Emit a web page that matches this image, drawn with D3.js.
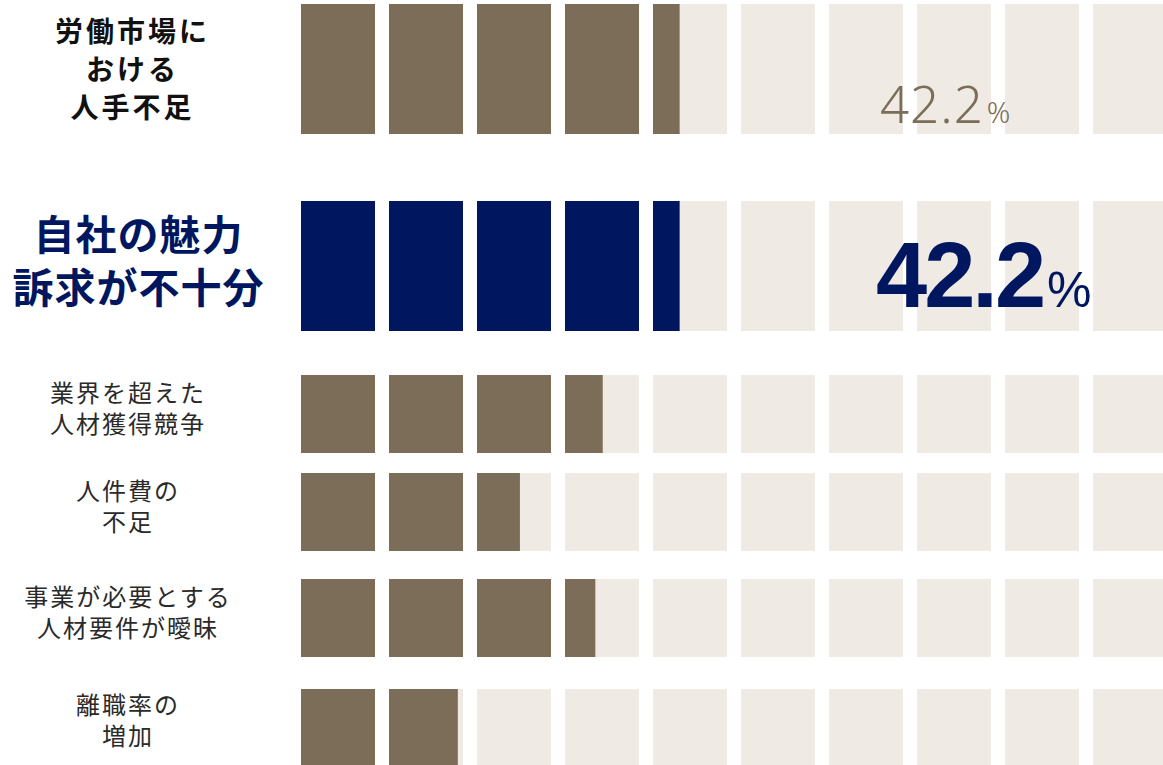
<!DOCTYPE html>
<html>
<head>
<meta charset="utf-8">
<script src="https://cdn.jsdelivr.net/npm/d3@7"></script>
<style>
  html, body { margin: 0; padding: 0; background: #fff; }
  svg { display: block; }
</style>
</head>
<body>
<svg id="chart" width="1163" height="765"></svg>
<script>
// categories (line breaks as in the picture)
var categories = [
  ["労働市場に", "おける", "人手不足"],
  ["自社の魅力", "訴求が不十分"],
  ["業界を超えた", "人材獲得競争"],
  ["人件費の", "不足"],
  ["事業が必要とする", "人材要件が曖昧"],
  ["離職率の", "増加"]
];
// share filled, % (read from the filled blocks)
var fillValues = [43.6, 43.6, 35.1, 25.8, 34.1, 19.3];
// headline labels shown on the first two rows
var shownLabels = ["42.2", "42.2"];
var blocks = d3.range(10);

var BROWN = "#7b6d58", LIGHT = "#efebe4", NAVY = "#001760";
var svg = d3.select("#chart");

// row layout
var rowTop = [4, 201, 375, 473, 579, 689];
var rowH = [130, 130, 78, 78, 78, 78];
var labelY = [30, 232, 391, 489, 595, 703];

var x = d3.scaleBand().domain(blocks).range([301, 1167]).paddingInner(14 / 88).paddingOuter(0);
// block units -> pixels inside one block
var w = d3.scaleLinear().domain([0, 1]).range([0, x.bandwidth()]).clamp(true);

categories.forEach(function(lines, r) {
  var g = svg.append("g").attr("transform", "translate(0," + rowTop[r] + ")");
  var units = fillValues[r] / 10;

  g.selectAll("rect.bg").data(blocks).enter().append("rect")
    .attr("class", "bg")
    .attr("x", function(d) { return x(d); })
    .attr("y", 0)
    .attr("width", x.bandwidth())
    .attr("height", rowH[r])
    .attr("fill", LIGHT);

  g.selectAll("rect.fg").data(blocks.filter(function(d) { return units - d > 0; })).enter().append("rect")
    .attr("class", "fg")
    .attr("x", function(d) { return x(d); })
    .attr("y", 0)
    .attr("width", function(d) { return w(Math.min(1, units - d)); })
    .attr("height", rowH[r])
    .attr("fill", r == 1 ? NAVY : BROWN);

  // row label
  var style;
  if (r == 0) style = { cx: 131, step: 38, size: 28, weight: 700, color: "#111", ls: 3 };
  else if (r == 1) style = { cx: 138, step: 53, size: 41, weight: 700, color: NAVY, ls: 1 };
  else style = { cx: 127, step: 31, size: 24, weight: 400, color: "#2a2a2a", ls: 2 };

  var label = svg.append("text")
    .attr("text-anchor", "middle")
    .attr("font-family", "'Noto Sans CJK JP', sans-serif")
    .attr("font-size", style.size)
    .attr("font-weight", style.weight)
    .attr("letter-spacing", style.ls)
    .attr("fill", style.color);
  lines.forEach(function(t, i) {
    label.append("tspan")
      .attr("x", style.cx + style.ls / 2)
      .attr("y", labelY[r] + i * style.step)
      .attr("dominant-baseline", "central")
      .text(t);
  });
});

// headline percentages
var pct0 = svg.append("text")
  .attr("x", 880).attr("y", 123)
  .attr("font-family", "'Noto Sans', 'Open Sans', sans-serif")
  .attr("font-weight", 300)
  .attr("fill", BROWN);
pct0.append("tspan").attr("font-size", 51).attr("letter-spacing", 1).text(shownLabels[0]);
pct0.append("tspan").attr("font-size", 29).attr("dx", 3).text("%");

var pct1 = svg.append("text")
  .attr("x", 876).attr("y", 307)
  .attr("font-family", "'Liberation Sans', Arial, sans-serif")
  .attr("fill", NAVY);
pct1.append("tspan").attr("font-size", 92).attr("font-weight", 700).attr("letter-spacing", -3).text(shownLabels[1]);
pct1.append("tspan").attr("font-size", 50).attr("font-weight", 400).attr("dx", 4).text("%");
</script>
</body>
</html>
